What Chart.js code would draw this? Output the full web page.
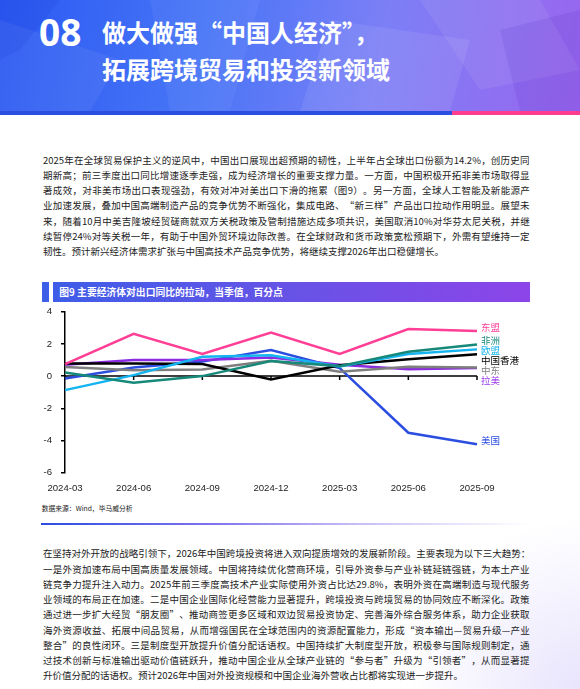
<!DOCTYPE html>
<html>
<head>
<meta charset="utf-8">
<script src="https://cdn.jsdelivr.net/npm/chart.js@4.4.1/dist/chart.umd.min.js"></script>
<style>
  body { margin: 0; width: 580px; height: 689px; position: relative; overflow: hidden;
         background: radial-gradient(circle at 580px 689px, rgba(205,195,250,0.45) 0, rgba(255,255,255,0) 170px), #fff;
         font-family: "Noto Sans CJK SC", "Noto Sans", sans-serif; color: #222; }
  #hero { position: absolute; left: 0; top: 0; width: 580px; height: 111px; overflow: hidden;
          background: linear-gradient(100deg, #2b59f2 0%, #4775f7 35%, #7c7ff6 65%, #9a66ee 100%); }
  .facet { position: absolute; top: 0; left: 0; width: 580px; height: 111px; }
  #stripe-blue { position: absolute; left: 0; top: 111px; width: 452px; height: 3.5px; background: #2a4fe0; }
  #stripe-pink { position: absolute; left: 452px; top: 111px; width: 128px; height: 3.5px; background: #ff3d8f; }
  #num { position: absolute; left: 39px; top: 12px; font: 700 37px/40px "Open Sans", "Noto Sans", sans-serif; color: #fff; }
  .title { position: absolute; left: 102px; font: 700 24px/24px "Noto Sans CJK SC", sans-serif; color: #fff; white-space: nowrap; }
  .para { position: absolute; left: 43px; width: 487px; font-size: 9.5px; color: #222; }
  .ln { display: flex; justify-content: space-between; white-space: nowrap; }
  #figbar { position: absolute; left: 41.7px; top: 281.5px; width: 488.3px; height: 20.5px;
            background: linear-gradient(90deg, #3d5ee8 0%, #6a52e6 55%, #8c45e8 100%); }
  #figbar .gap { position: absolute; left: 7.3px; top: 0; width: 3.7px; height: 100%; background: #fff; }
  #figbar .txt { position: absolute; left: 17.6px; top: 0; line-height: 20.5px; font-size: 9.8px; font-weight: 700; color: #fff; white-space: nowrap; }
  #chartBox { position: absolute; left: 30px; top: 303px; width: 520px; height: 200px; }
  #source { position: absolute; left: 41.7px; top: 503px; font-size: 6.8px; line-height: 11px; color: #222; white-space: nowrap; }
  #rule { position: absolute; left: 41px; top: 522.5px; width: 489px; height: 2px;
          background: linear-gradient(90deg, #2b4de0 0%, #7f73ee 35%, #c9bdf6 65%, rgba(255,255,255,0) 100%); }
</style>
</head>
<body>
<div id="hero">
  <svg class="facet" viewBox="0 0 580 111">
    <polygon points="0,20 120,60 90,111 0,111" fill="rgba(255,255,255,0.06)"/>
    <polygon points="150,0 260,0 230,111 170,111" fill="rgba(255,255,255,0.05)"/>
    <polygon points="330,20 470,40 450,111 300,111" fill="rgba(255,255,255,0.08)"/>
    <polygon points="420,0 540,0 580,70 480,90" fill="rgba(255,255,255,0.07)"/>
    <polygon points="500,30 580,10 580,111 520,111" fill="rgba(60,20,180,0.10)"/>
    <polygon points="0,0 60,0 20,50 0,60" fill="rgba(20,40,200,0.10)"/>
  </svg>
</div>
<div id="stripe-blue"></div>
<div id="stripe-pink"></div>
<div id="num">08</div>
<div class="title" style="top:20px">做大做强“中国人经济”，</div>
<div class="title" style="top:57px">拓展跨境贸易和投资新领域</div>

<div class="para" id="p1" style="top:153px"></div>

<div id="figbar"><div class="gap"></div><div class="txt">图9 主要经济体对出口同比的拉动，当季值，百分点</div></div>
<div id="chartBox"><canvas id="exports"></canvas></div>
<div id="source">数据来源：Wind，毕马威分析</div>
<div id="rule"></div>

<div class="para" id="p2" style="top:546.4px"></div>

<script>
// quarters and contribution to China's export growth, percentage points
const quarters = ['2024-03', '2024-06', '2024-09', '2024-12', '2025-03', '2025-06', '2025-09'];
const asean = [0.75, 2.63, 1.37, 2.71, 1.37, 2.92, 2.80];
const africa = [0.23, -0.41, 0.0, 0.93, 0.62, 1.51, 1.97];
const eu = [-0.87, 0.06, 1.2, 1.3, 0.6, 1.37, 1.66];
const hongKong = [0.79, 0.79, 0.75, -0.21, 0.68, 1.04, 1.35];
const middleEast = [0.56, 0.37, 0.41, 0.95, 0.27, 0.58, 0.54];
const latam = [0.7, 1.0, 1.0, 1.16, 0.7, 0.42, 0.5];
const usa = [-0.15, 0.54, 0.9, 1.62, 0.5, -3.52, -4.23];
const yTicks = [4, 2, 0, -2, -4, -6];

const para1 = [
  '2025年在全球贸易保护主义的逆风中，中国出口展现出超预期的韧性，上半年占全球出口份额为14.2%，创历史同',
  '期新高；前三季度出口同比增速逐季走强，成为经济增长的重要支撑力量。一方面，中国积极开拓非美市场取得显',
  '著成效，对非美市场出口表现强劲，有效对冲对美出口下滑的拖累（图9）。另一方面，全球人工智能及新能源产',
  '业加速发展，叠加中国高端制造产品的竞争优势不断强化，集成电路、“新三样”产品出口拉动作用明显。展望未',
  '来，随着10月中美吉隆坡经贸磋商就双方关税政策及管制措施达成多项共识，美国取消10%对华芬太尼关税，并继',
  '续暂停24%对等关税一年，有助于中国外贸环境边际改善。在全球财政和货币政策宽松预期下，外需有望维持一定',
  '韧性。预计新兴经济体需求扩张与中国高技术产品竞争优势，将继续支撑2026年出口稳健增长。'
];
const para2 = [
  '在坚持对外开放的战略引领下，2026年中国跨境投资将进入双向提质增效的发展新阶段。主要表现为以下三大趋势：',
  '一是外资加速布局中国高质量发展领域。中国将持续优化营商环境，引导外资参与产业补链延链强链，为本土产业',
  '链竞争力提升注入动力。2025年前三季度高技术产业实际使用外资占比达29.8%，表明外资在高端制造与现代服务',
  '业领域的布局正在加速。二是中国企业国际化经营能力显著提升，跨境投资与跨境贸易的协同效应不断深化。政策',
  '通过进一步扩大经贸“朋友圈”、推动商签更多区域和双边贸易投资协定、完善海外综合服务体系，助力企业获取',
  '海外资源收益、拓展中间品贸易，从而增强国民在全球范围内的资源配置能力，形成“资本输出—贸易升级—产业',
  '整合”的良性闭环。三是制度型开放提升价值分配话语权。中国持续扩大制度型开放，积极参与国际规则制定，通',
  '过技术创新与标准输出驱动价值链跃升，推动中国企业从全球产业链的“参与者”升级为“引领者”，从而显著提',
  '升价值分配的话语权。预计2026年中国对外投资规模和中国企业海外营收占比都将实现进一步提升。'
];

function fillLines(el, lines, lh) {
  lines.forEach((t, i) => {
    const d = document.createElement('div');
    d.className = 'ln';
    d.style.height = lh + 'px';
    d.style.lineHeight = lh + 'px';
    if (i === lines.length - 1) {
      d.style.justifyContent = 'flex-start';
      d.textContent = t;
    } else {
      t.match(/[A-Za-z0-9.%]+|./g).forEach(seg => {
        const s = document.createElement('span');
        s.textContent = seg;
        d.appendChild(s);
      });
    }
    el.appendChild(d);
  });
}
fillLines(document.getElementById('p1'), para1, 15.15);
fillLines(document.getElementById('p2'), para2, 15.25);

// zero line with its little category ticks
const zeroAxis = {
  id: 'zeroAxis',
  beforeDatasetsDraw(chart) {
    const {ctx, chartArea, scales: {x, y}} = chart;
    const y0 = y.getPixelForValue(0);
    ctx.save();
    ctx.strokeStyle = '#000';
    ctx.lineWidth = 1.5;
    ctx.beginPath();
    ctx.moveTo(chartArea.left, y0);
    ctx.lineTo(chartArea.right, y0);
    quarters.forEach((q, i) => {
      const px = x.getPixelForValue(i);
      ctx.moveTo(px, y0);
      ctx.lineTo(px, y0 + 4);
    });
    ctx.stroke();
    ctx.restore();
  }
};

// series names written at the line ends
const endLabels = {
  id: 'endLabels',
  afterDatasetsDraw(chart) {
    const {ctx, chartArea, scales: {y}} = chart;
    const items = chart.data.datasets.map(ds => ({
      text: ds.label,
      color: ds.labelColor || ds.borderColor,
      y: y.getPixelForValue(ds.data[ds.data.length - 1]) - 4
    })).sort((a, b) => a.y - b.y);
    for (let i = 1; i < items.length; i++) {
      if (items[i].y - items[i - 1].y < 10) items[i].y = items[i - 1].y + 10;
    }
    ctx.save();
    ctx.font = '9.5px "Noto Sans CJK SC"';
    ctx.textBaseline = 'middle';
    ctx.textAlign = 'left';
    items.forEach(it => {
      ctx.fillStyle = it.color;
      ctx.fillText(it.text, chartArea.right + 4, it.y);
    });
    ctx.restore();
  }
};

const axisFont = {family: '"Liberation Sans", Arial, sans-serif', size: 9.6};

new Chart(document.getElementById('exports'), {
  type: 'line',
  data: {
    labels: quarters,
    datasets: [
      {label: '东盟', data: asean, borderColor: '#ff3e96'},
      {label: '非洲', data: africa, borderColor: '#17897a'},
      {label: '欧盟', data: eu, borderColor: '#14b4f0'},
      {label: '中国香港', data: hongKong, borderColor: '#000000'},
      {label: '中东', data: middleEast, borderColor: '#7f7f7f'},
      {label: '拉美', data: latam, borderColor: '#8b2be2', labelColor: '#9a3cf0'},
      {label: '美国', data: usa, borderColor: '#2b4de0'}
    ].map(ds => Object.assign(ds, {borderWidth: 2.5, pointRadius: 0, tension: 0, fill: false}))
  },
  options: {
    responsive: true,
    maintainAspectRatio: false,
    animation: false,
    layout: {padding: {top: 8.7, right: 73, left: 0, bottom: 0}},
    plugins: {legend: {display: false}, tooltip: {enabled: false}},
    scales: {
      x: {
        grid: {display: false, drawTicks: false},
        border: {display: false},
        ticks: {padding: 10, font: axisFont, color: '#1e1e1e', maxRotation: 0, autoSkip: false},
        afterFit: s => { s.height = 30.3; }
      },
      y: {
        min: -6,
        max: 4,
        afterBuildTicks: s => { s.ticks = yTicks.map(v => ({value: v})); },
        ticks: {padding: 9, font: axisFont, color: '#1e1e1e'},
        grid: {drawOnChartArea: false, drawTicks: true, tickLength: 4, color: '#000', lineWidth: 1.5},
        border: {color: '#000', width: 1.5},
        afterFit: s => { s.width = 35; s.paddingTop = 0; s.paddingBottom = 0; }
      }
    }
  },
  plugins: [zeroAxis, endLabels]
});
</script>
</body>
</html>
